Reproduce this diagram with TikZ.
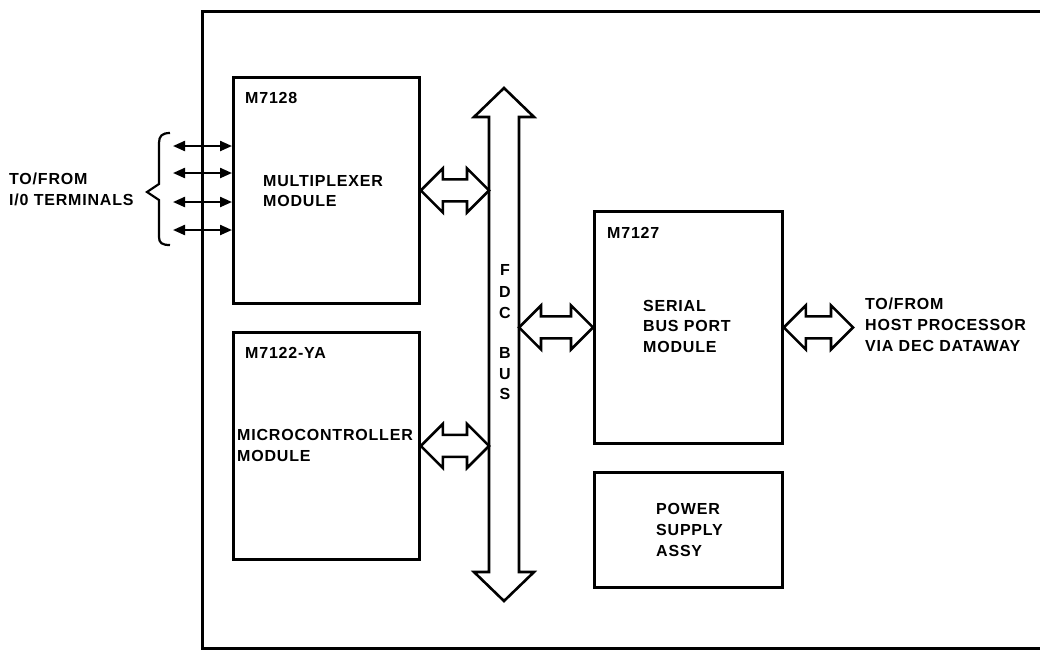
\documentclass[tikz,border=0pt]{standalone}
\usepackage{fontspec}
\setmainfont[LetterSpace=5]{Liberation Sans}
\usetikzlibrary{calc,arrows.meta}
\newcommand\hfat[2]{\draw[fat] let \p1=(#1), \p2=(#2) in (\x1,\y1) -- (\x1+22pt,\y1+22pt) -- (\x1+22pt,\y1+11pt) -- (\x2-22pt,\y1+11pt) -- (\x2-22pt,\y1+22pt) -- (\x2,\y1) -- (\x2-22pt,\y1-22pt) -- (\x2-22pt,\y1-11pt) -- (\x1+22pt,\y1-11pt) -- (\x1+22pt,\y1-22pt) -- cycle;}
\begin{document}
\begin{tikzpicture}[x=1pt,y=-1pt,
  box/.style={draw, line width=2.8pt, inner sep=0pt, anchor=north west},
  lbl/.style={inner sep=0pt, font=\fontsize{16}{19}\selectfont\bfseries, anchor=base west},
  fat/.style={draw, line width=2.6pt, fill=white, line join=miter},
  io/.style={line width=2.2pt, {Triangle[length=12pt,width=10pt]}-{Triangle[length=12pt,width=10pt]}}]
\useasboundingbox (0,0) rectangle (1040,649);
% frame
\draw[line width=3pt] (1040,11) -- (202,11) -- (202,648) -- (1040,648);
% boxes
\node[box, minimum width=186pt, minimum height=226pt] (mux) at (232,76) {};
\node[box, minimum width=186pt, minimum height=227pt] (micro) at (232,331) {};
\node[box, minimum width=188pt, minimum height=232pt] (serial) at (593,210) {};
\node[box, minimum width=188pt, minimum height=115pt] (power) at (593,471) {};
% bus
\coordinate (busTop) at (504,88);
\coordinate (busBot) at (504,601);
\coordinate (busL) at (489,0);
\coordinate (busR) at (519,0);
\draw[fat] let \p1=(busTop), \p2=(busBot) in (\x1,\y1) -- (\x1+30pt,\y1-29pt) -- (\x1+15pt,\y1-29pt) -- (\x1+15pt,\y2+29pt) -- (\x1+30pt,\y2+29pt) -- (\x1,\y2) -- (\x1-30pt,\y2+29pt) -- (\x1-15pt,\y2+29pt) -- (\x1-15pt,\y1-29pt) -- (\x1-30pt,\y1-29pt) -- cycle;
% fat arrows
\hfat{mux.east}{mux.east -| busL}
\hfat{micro.east}{micro.east -| busL}
\hfat{serial.west -| busR}{serial.west}
\coordinate (host) at (853,326);
\hfat{serial.east}{serial.east -| host}
% I/O arrows
\foreach \i/\y in {1/146,2/173,3/202,4/230}{
  \coordinate (t\i) at (173,\y);
  \draw[io] (t\i) -- (t\i -| mux.west);
}
% brace
\draw[line width=2.2pt] (170,133) .. controls (162,133) and (159,136) .. (159,143) -- (159,184) -- (147,192) -- (159,200) -- (159,237) .. controls (159,243) and (162,245) .. (170,245);
% labels
\node[lbl] (l1a) at (9,184) {TO/FROM};
\node[lbl] (l1b) at (9,205) {I/0 TERMINALS};
\node[lbl] (m1) at (245,103) {M7128};
\node[lbl] (m1a) at (263,186) {MULTIPLEXER};
\node[lbl] (m1b) at (263,206) {MODULE};
\node[lbl] (m2) at (245,358) {M7122-YA};
\node[lbl] (m2a) at (237,440) {MICROCONTROLLER};
\node[lbl] (m2b) at (237,461) {MODULE};
\node[lbl] (m3) at (607,238) {M7127};
\node[lbl] (m3a) at (643,311) {SERIAL};
\node[lbl] (m3b) at (643,331) {BUS PORT};
\node[lbl] (m3c) at (643,352) {MODULE};
\node[lbl] (p1) at (656,514) {POWER};
\node[lbl] (p2) at (656,535) {SUPPLY};
\node[lbl] (p3) at (656,556) {ASSY};
\node[lbl] (h1) at (865,309) {TO/FROM};
\node[lbl] (h2) at (865,330) {HOST PROCESSOR};
\node[lbl] (h3) at (865,351) {VIA DEC DATAWAY};
\foreach \c/\y [count=\k] in {F/275,D/297,C/318,B/358,U/379,S/399}{
  \node[lbl, anchor=base] (b\k) at (505,\y) {\c};
}
\end{tikzpicture}
\end{document}
